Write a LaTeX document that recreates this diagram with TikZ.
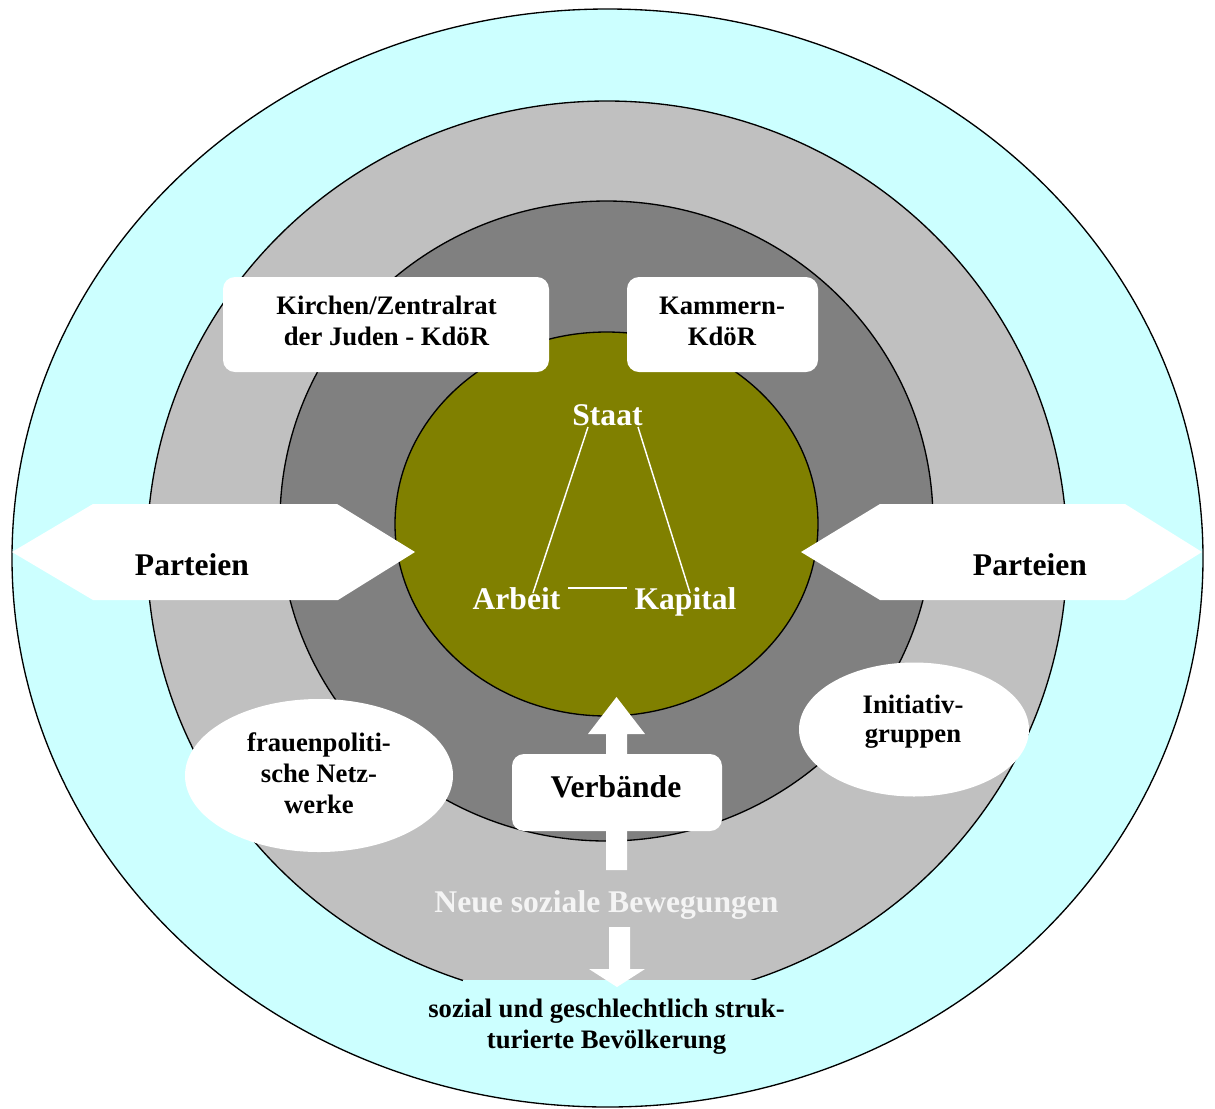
\documentclass[tikz,border=0pt]{standalone}
\usepackage{fontspec}
\setmainfont{Liberation Serif}
\definecolor{cyanbg}{HTML}{CCFFFF}
\definecolor{lgray}{HTML}{C0C0C0}
\definecolor{dgray}{HTML}{808080}
\definecolor{olivec}{HTML}{808000}
\definecolor{neuec}{HTML}{F4F4F4}
\begin{document}
\begin{tikzpicture}[x=0.75pt,y=-0.75pt,
  ring/.style={draw=black,line width=1pt},
  panel/.style={fill=white,rounded corners=9pt},
  bigtxt/.style={font=\fontsize{23.7}{28}\selectfont\bfseries,inner sep=0pt,anchor=base},
  midtxt/.style={font=\fontsize{20}{23.25}\selectfont\bfseries,inner sep=0pt,anchor=base,align=center},
  link/.style={draw=white,line width=1.1pt}]
\useasboundingbox (0,0) rectangle (1215,1108);
\fill[white] (0,0) rectangle (1215,1108);
% rings
\draw[ring,fill=cyanbg] (607.5,558) ellipse [x radius=595.5, y radius=549];
\draw[ring,fill=lgray] (607,552) ellipse [x radius=460, y radius=451];
\draw[ring,fill=dgray] (606.5,521) ellipse [x radius=326.5, y radius=320];
\draw[ring,fill=olivec] (606.5,524) ellipse [x radius=211.5, y radius=192];
% cyan text area at bottom
\fill[cyanbg] (463,980) rectangle (756,1065);
% Parteien arrows
\fill[white] (12,552) -- (93,504) -- (337,504) -- (415,552) -- (338,600) -- (93,600) -- cycle;
\fill[white] (801,552) -- (880,504) -- (1125,504) -- (1202,552) -- (1125,600) -- (880,600) -- cycle;
% boxes
\fill[panel] (223,277) rectangle (549,372);
\fill[panel] (627,277) rectangle (818,372);
% up arrow and Verbaende box
\fill[white] (606,870) -- (606,734) -- (588,734) -- (616.5,697) -- (645,734) -- (627,734) -- (627,870) -- cycle;
\fill[panel] (512,754) rectangle (722,831);
% down arrow
\fill[white] (609,927) -- (630,927) -- (630,969) -- (645,969) -- (617,987) -- (589,969) -- (609,969) -- cycle;
% white ellipses
\fill[white] (319,775.5) ellipse [x radius=134, y radius=76.5];
\fill[white] (914,729.5) ellipse [x radius=115, y radius=67];
% texts
\node[bigtxt] (parteienl) at (192,575) {Parteien};
\node[bigtxt] (parteienr) at (1030,575) {Parteien};
\node[bigtxt] (verbaende) at (616,797) {Verbände};
\node[bigtxt,text=white] (staat) at (607.5,425) {Staat};
\node[bigtxt,text=white] (arbeit) at (516.5,609) {Arbeit};
\node[bigtxt,text=white] (kapital) at (685.5,609) {Kapital};
\node[bigtxt,text=neuec] (neue) at (606.5,912) {Neue soziale Bewegungen};
\node[midtxt] (kirchen) at (386.5,345) {Kirchen/Zentralrat\\der Juden - KdöR};
\node[midtxt] (kammern) at (722,345) {Kammern-\\KdöR};
\node[midtxt,font=\fontsize{20}{22.9}\selectfont\bfseries] (frauen) at (319,813) {frauenpoliti-\\sche Netz-\\werke};
\node[midtxt,font=\fontsize{20}{21.75}\selectfont\bfseries] (initiativ) at (913,742) {Initiativ-\\gruppen};
\node[midtxt] (bevoelkerung) at (606.5,1048) {sozial und geschlechtlich struk-\\turierte Bevölkerung};
% triangle lines
\draw[link] ([shift={(-19.5,2)}]staat.base) -- ([shift={(16.5,-16)}]arbeit.base);
\draw[link] ([shift={(30.5,2)}]staat.base) -- ([shift={(4.5,-16)}]kapital.base);
\draw[link] ([shift={(51.5,-21)}]arbeit.base) -- ([shift={(-58.5,-21)}]kapital.base);
\end{tikzpicture}
\end{document}
